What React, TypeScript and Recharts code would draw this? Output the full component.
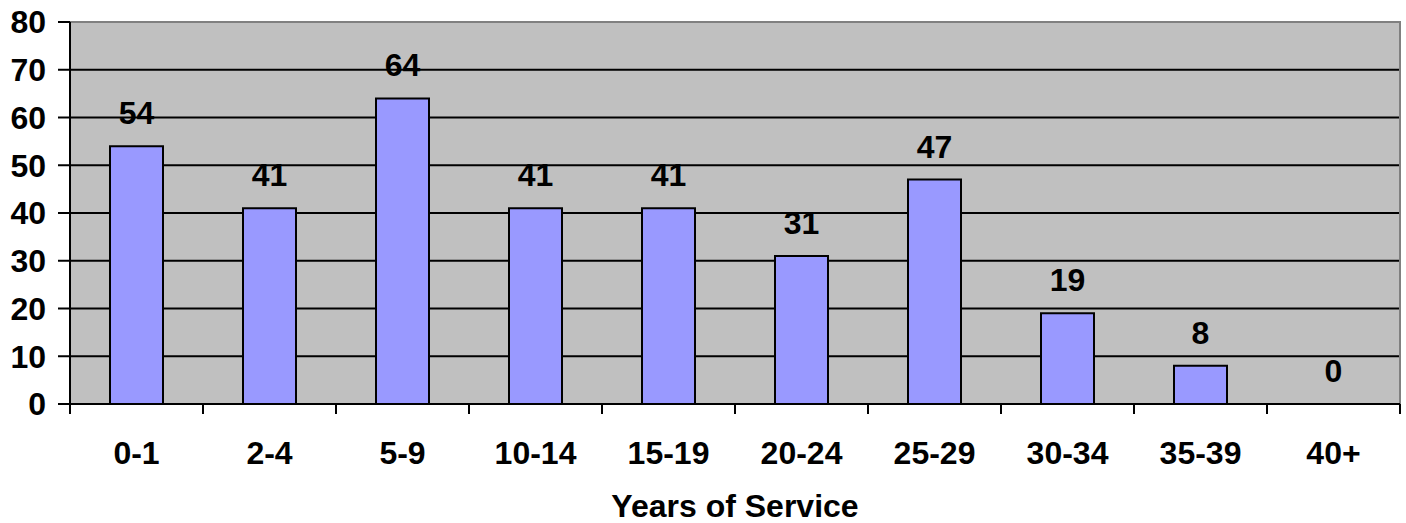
import React from "react";
import {
  ComposedChart,
  Bar,
  Line,
  XAxis,
  YAxis,
  CartesianGrid,
  ReferenceArea,
  LabelList,
} from "recharts";

const CATEGORIES = ["0-1", "2-4", "5-9", "10-14", "15-19", "20-24", "25-29", "30-34", "35-39", "40+"];
const COUNTS = [54, 41, 64, 41, 41, 31, 47, 19, 8, 0];
const Y_TICKS = [0, 10, 20, 30, 40, 50, 60, 70, 80];
const GRID_VALUES = [10, 20, 30, 40, 50, 60, 70];

const data = CATEGORIES.map((years, i) => ({ years, count: COUNTS[i] }));

const FONT = "'Liberation Sans', Arial, sans-serif";
const TEXT_STYLE = { fontFamily: FONT, fontWeight: "bold", fill: "#000" };

// category label centred in its slot, tick marks on the slot boundaries
function YearsTick(props: any) {
  const { x, y, payload, index, visibleTicksCount } = props;
  const half = payload?.offset ?? 66.5;
  const axisY = y - 37;
  const last = index === (visibleTicksCount ?? CATEGORIES.length) - 1;
  return (
    <g>
      <line x1={x - half} x2={x - half} y1={axisY} y2={axisY + 10} stroke="#000" strokeWidth={2} />
      {last && (
        <line x1={x + half} x2={x + half} y1={axisY} y2={axisY + 10} stroke="#000" strokeWidth={2} />
      )}
      <text x={x} y={y} dy="0.71em" textAnchor="middle" fontSize={32} {...TEXT_STYLE}>
        {payload.value}
      </text>
    </g>
  );
}

export default function App() {
  return (
    <div style={{ position: "absolute", left: 0, top: 0, background: "#fff" }}>
      <ComposedChart
        width={1406}
        height={523}
        data={data}
        margin={{ top: 22, right: 6, bottom: 0, left: 0 }}
        barCategoryGap={0}
      >
        <CartesianGrid
          vertical={false}
          horizontalValues={GRID_VALUES}
          fill="#c0c0c0"
          fillOpacity={1}
          stroke="#000"
          strokeWidth={2}
          strokeOpacity={1}
        />
        <ReferenceArea y1={0} y2={80} fill="none" stroke="#808080" strokeWidth={2} />
        <XAxis
          dataKey="years"
          height={119}
          axisLine={{ stroke: "#000", strokeWidth: 2 }}
          tickLine={false}
          tickSize={10}
          tickMargin={27}
          interval={0}
          tick={<YearsTick />}
          label={{
            value: "Years of Service",
            position: "insideBottom",
            offset: 6,
            style: { ...TEXT_STYLE, fontSize: 32 },
          }}
        />
        <YAxis
          width={70}
          domain={[0, 80]}
          ticks={Y_TICKS}
          interval={0}
          axisLine={{ stroke: "#000", strokeWidth: 2 }}
          tickLine={{ stroke: "#000", strokeWidth: 2 }}
          tickSize={12}
          tickMargin={12}
          tick={{ ...TEXT_STYLE, fontSize: 32 }}
        />
        <Bar
          dataKey="count"
          fill="#9999ff"
          stroke="#000"
          strokeWidth={2}
          barSize={53}
          isAnimationActive={false}
        />
        {/* value labels, including the empty 40+ slot */}
        <Line
          dataKey="count"
          stroke="none"
          dot={false}
          activeDot={false}
          legendType="none"
          isAnimationActive={false}
        >
          <LabelList dataKey="count" position="top" offset={22} style={{ ...TEXT_STYLE, fontSize: 32 }} />
        </Line>
      </ComposedChart>
    </div>
  );
}
